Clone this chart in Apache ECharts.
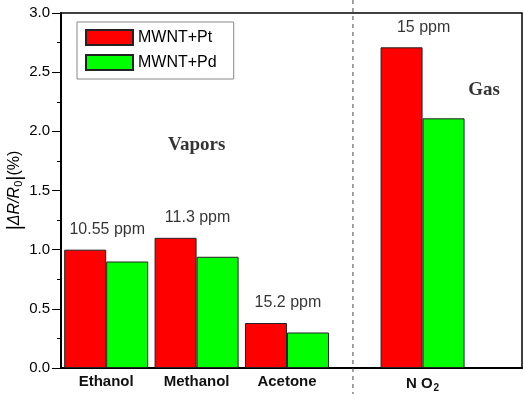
<!DOCTYPE html>
<html>
<head>
<meta charset="utf-8">
<script src="https://cdn.jsdelivr.net/npm/echarts@6/dist/echarts.min.js"></script>
<style>html,body{margin:0;padding:0;background:#fff}#c{width:524px;height:394px}</style>
</head>
<body>
<div id="c"></div>
<script>
// ---- data ----
var categories = ['Ethanol', 'Methanol', 'Acetone', 'NO2'];
var categoryX = [0, 1, 2, 3.5];
var seriesNames = ['MWNT+Pt', 'MWNT+Pd'];
var ptValues = [1.00, 1.10, 0.38, 2.71];
var pdValues = [0.90, 0.94, 0.30, 2.11];
var concLabels = ['10.55 ppm', '11.3 ppm', '15.2 ppm', '15 ppm'];
var groupNotes = ['Vapors', 'Gas'];
var groupNoteX = [1.0, 4.18];
var groupNoteY = [1.885, 2.35];
var dividerX = 2.73;

var chart = echarts.init(document.getElementById('c'), null, {renderer: 'canvas'});

function pairs(xs, ys) { return xs.map(function (x, i) { return [x, ys[i]]; }); }

var option = {
  animation: false,
  textStyle: {fontFamily: 'Liberation Sans, Arial, sans-serif'},
  grid: {left: 61, top: 13, right: 2, bottom: 26, containLabel: false, outerBoundsMode: 'none',
         show: true, borderColor: '#000', borderWidth: 1.5, backgroundColor: 'transparent'},
  legend: {
    orient: 'vertical', left: 77, top: 22, icon: 'rect',
    padding: [7, 17, 8, 8], itemGap: 8, itemWidth: 47, itemHeight: 15,
    borderColor: '#888', borderWidth: 1,
    textStyle: {fontSize: 16, color: '#000'},
    data: seriesNames
  },
  xAxis: {
    type: 'value', min: -0.5, max: 4.6, interval: 0.5,
    splitLine: {show: false},
    axisTick: {show: false},
    axisLine: {onZero: false, lineStyle: {color: '#000', width: 2}},
    axisLabel: {
      margin: 6, fontSize: 15, fontWeight: 'bold', color: '#111',
      formatter: function (v) {
        for (var i = 0; i < categoryX.length; i++) {
          if (Math.abs(v - categoryX[i]) < 1e-6) {
            var c = categories[i];
            if (c === 'NO2') return '{b|N O}{s|2}';
            return c;
          }
        }
        return '';
      },
      rich: {
        b: {fontSize: 15, fontWeight: 'bold', color: '#111'},
        s: {fontSize: 10, fontWeight: 'bold', color: '#111', padding: [9, 0, 0, 1]}
      }
    }
  },
  yAxis: {
    type: 'value', min: 0, max: 3, interval: 0.5,
    splitLine: {show: false},
    axisLine: {onZero: false, lineStyle: {color: '#000', width: 2}},
    axisTick: {show: true, inside: false, length: 9, lineStyle: {color: '#000', width: 1}},
    minorTick: {show: true, splitNumber: 2, length: 4, lineStyle: {color: '#000', width: 1}},
    axisLabel: {margin: 11, fontSize: 15, color: '#000', formatter: function (v) { return v.toFixed(1); }},
    name: '{n||}{i|ΔR/R}{s|0}{n||}{p|(%)}',
    nameLocation: 'middle', nameRotate: 90, nameGap: 36, nameMoveOverlap: false,
    nameTextStyle: {
      rich: {
        n: {fontSize: 20, color: '#000'},
        i: {fontSize: 16, fontStyle: 'italic', color: '#000'},
        s: {fontSize: 11, color: '#000', padding: [7, 0, 0, 0]},
        p: {fontSize: 16, color: '#000'}
      }
    }
  },
  series: [
    {
      name: seriesNames[0], type: 'bar', barWidth: 42, barGap: '0%',
      itemStyle: {color: '#ff0000', borderColor: '#222', borderWidth: 1},
      data: pairs(categoryX, ptValues)
    },
    {
      name: seriesNames[1], type: 'bar', barWidth: 42, barGap: '0%',
      itemStyle: {color: '#00ff00', borderColor: '#222', borderWidth: 1},
      data: pairs(categoryX, pdValues)
    },
    {
      name: 'conc', type: 'scatter', symbolSize: 0, silent: true,
      data: categoryX.map(function (x, i) { return {value: [x, ptValues[i]], name: concLabels[i]}; }),
      label: {show: true, position: 'inside', offset: [1, -20], formatter: '{b}', fontSize: 16, color: '#000'}
    },
    {
      name: 'notes', type: 'scatter', symbolSize: 0, silent: true,
      data: groupNotes.map(function (t, i) { return {value: [groupNoteX[i], groupNoteY[i]], name: t}; }),
      label: {show: true, position: 'inside', formatter: '{b}', fontSize: 19, fontWeight: 'bold', fontFamily: 'Liberation Serif, Times New Roman, serif', color: '#000'}
    }
  ]
};
chart.setOption(option);

var px = chart.convertToPixel({xAxisIndex: 0}, dividerX);
chart.setOption({
  graphic: [{
    type: 'line', silent: true, z: 100,
    shape: {x1: px, y1: 0, x2: px, y2: 394},
    style: {stroke: '#444', lineWidth: 1, lineDash: [4, 4]}
  }]
});
</script>
</body>
</html>
